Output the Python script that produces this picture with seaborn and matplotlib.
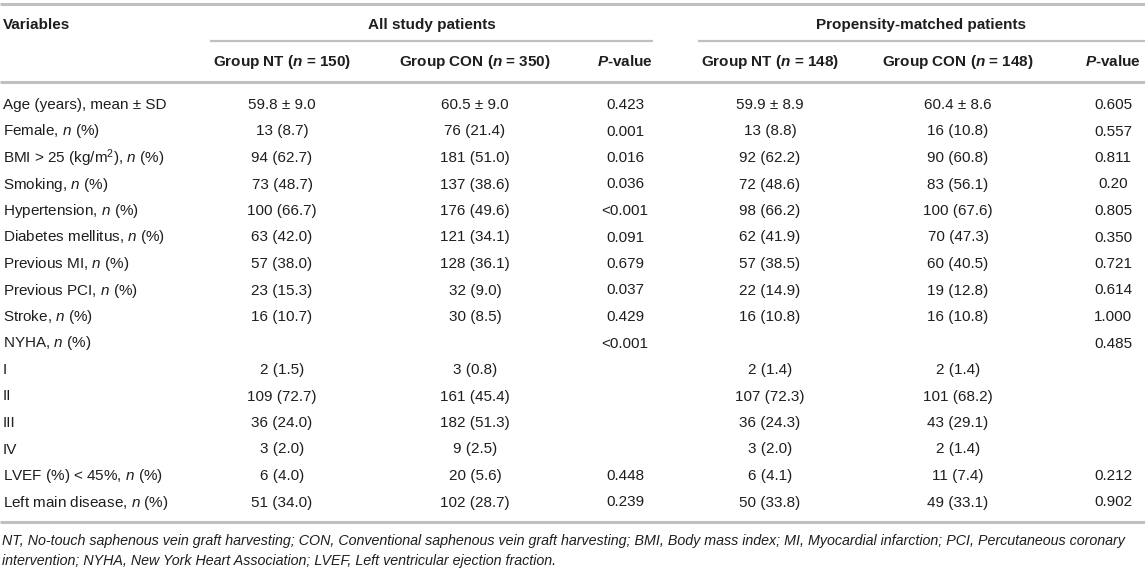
import matplotlib
matplotlib.use('Agg')
import matplotlib.pyplot as plt
import seaborn as sns

sns.set_theme(style='white')
plt.rcParams['font.family'] = ['Liberation Sans', 'DejaVu Sans']
plt.rcParams['mathtext.fontset'] = 'custom'
plt.rcParams['mathtext.rm'] = 'Liberation Sans'
plt.rcParams['mathtext.it'] = 'Liberation Sans:italic'
plt.rcParams['mathtext.bf'] = 'Liberation Sans:bold'
plt.rcParams['mathtext.bfit'] = 'Liberation Sans:bold:italic'

# table content
variables = [
    'Age (years), mean ± SD', r'Female, $\mathit{n}$ (%)',
    r'BMI > 25 (kg/m$^2$), $\mathit{n}$ (%)', r'Smoking, $\mathit{n}$ (%)',
    r'Hypertension, $\mathit{n}$ (%)', r'Diabetes mellitus, $\mathit{n}$ (%)',
    r'Previous MI, $\mathit{n}$ (%)', r'Previous PCI, $\mathit{n}$ (%)',
    r'Stroke, $\mathit{n}$ (%)', r'NYHA, $\mathit{n}$ (%)',
    'I', 'II', 'III', 'IV',
    r'LVEF (%) < 45%, $\mathit{n}$ (%)', r'Left main disease, $\mathit{n}$ (%)',
]
nt_all = ['59.8 ± 9.0', '13 (8.7)', '94 (62.7)', '73 (48.7)', '100 (66.7)', '63 (42.0)',
          '57 (38.0)', '23 (15.3)', '16 (10.7)', '', '2 (1.5)', '109 (72.7)', '36 (24.0)',
          '3 (2.0)', '6 (4.0)', '51 (34.0)']
con_all = ['60.5 ± 9.0', '76 (21.4)', '181 (51.0)', '137 (38.6)', '176 (49.6)', '121 (34.1)',
           '128 (36.1)', '32 (9.0)', '30 (8.5)', '', '3 (0.8)', '161 (45.4)', '182 (51.3)',
           '9 (2.5)', '20 (5.6)', '102 (28.7)']
p_all = ['0.423', '0.001', '0.016', '0.036', '<0.001', '0.091', '0.679', '0.037', '0.429',
         '<0.001', '', '', '', '', '0.448', '0.239']
nt_psm = ['59.9 ± 8.9', '13 (8.8)', '92 (62.2)', '72 (48.6)', '98 (66.2)', '62 (41.9)',
          '57 (38.5)', '22 (14.9)', '16 (10.8)', '', '2 (1.4)', '107 (72.3)', '36 (24.3)',
          '3 (2.0)', '6 (4.1)', '50 (33.8)']
con_psm = ['60.4 ± 8.6', '16 (10.8)', '90 (60.8)', '83 (56.1)', '100 (67.6)', '70 (47.3)',
           '60 (40.5)', '19 (12.8)', '16 (10.8)', '', '2 (1.4)', '101 (68.2)', '43 (29.1)',
           '2 (1.4)', '11 (7.4)', '49 (33.1)']
p_psm = ['0.605', '0.557', '0.811', '0.20', '0.805', '0.350', '0.721', '0.614', '1.000',
         '0.485', '', '', '', '', '0.212', '0.902']

group_titles = ['All study patients', 'Propensity-matched patients']
col_headers = [r'Group NT ($\mathbfit{n}$ = 150)', r'Group CON ($\mathbfit{n}$ = 350)',
               r'$\mathbfit{P}$-value',
               r'Group NT ($\mathbfit{n}$ = 148)', r'Group CON ($\mathbfit{n}$ = 148)',
               r'$\mathbfit{P}$-value']
footnote = ['NT, No-touch saphenous vein graft harvesting; CON, Conventional saphenous vein graft '
            'harvesting; BMI, Body mass index; MI, Myocardial infarction; PCI, Percutaneous coronary',
            'intervention; NYHA, New York Heart Association; LVEF, Left ventricular ejection fraction.']

W, H = 1145, 571
fig = plt.figure(figsize=(W / 100, H / 100), dpi=100)
ax = fig.add_axes([0, 0, 1, 1])
ax.set_xlim(0, W)
ax.set_ylim(H, 0)
ax.axis('off')

txt = '#1e1e1e'
rule = '#c0c0c0'
fs = 11

col_x = [282, 475, 625, 770, 958, 1113]
columns = [nt_all, con_all, p_all, nt_psm, con_psm, p_psm]

# rules
ax.hlines([4, 82, 522], 0, W, color=rule, lw=2.2)
ax.hlines(41, 210, 653, color=rule, lw=1.6)
ax.hlines(41, 698, W, color=rule, lw=1.6)

# header
ax.text(3, 25, 'Variables', ha='left', va='center', fontsize=fs, fontweight='bold', color=txt)
ax.text(432, 25, group_titles[0], ha='center', va='center', fontsize=fs, fontweight='bold', color=txt)
ax.text(921, 25, group_titles[1], ha='center', va='center', fontsize=fs, fontweight='bold', color=txt)
for x, h in zip(col_x, col_headers):
    ax.text(x, 62, h, ha='center', va='center', fontsize=fs, fontweight='bold', color=txt)

# body
y0, dy = 105, 26.5
for i, v in enumerate(variables):
    y = y0 + i * dy
    ax.text(3, y, v, ha='left', va='center', fontsize=fs, color=txt)
    for x, col in zip(col_x, columns):
        if col[i]:
            ax.text(x, y, col[i], ha='center', va='center', fontsize=fs, color=txt)

# footnote
for j, line in enumerate(footnote):
    ax.text(2, 541 + j * 20, line, ha='left', va='center', fontsize=10.3,
            style='italic', color=txt)

fig.savefig('out.png', dpi=100, facecolor='white')
